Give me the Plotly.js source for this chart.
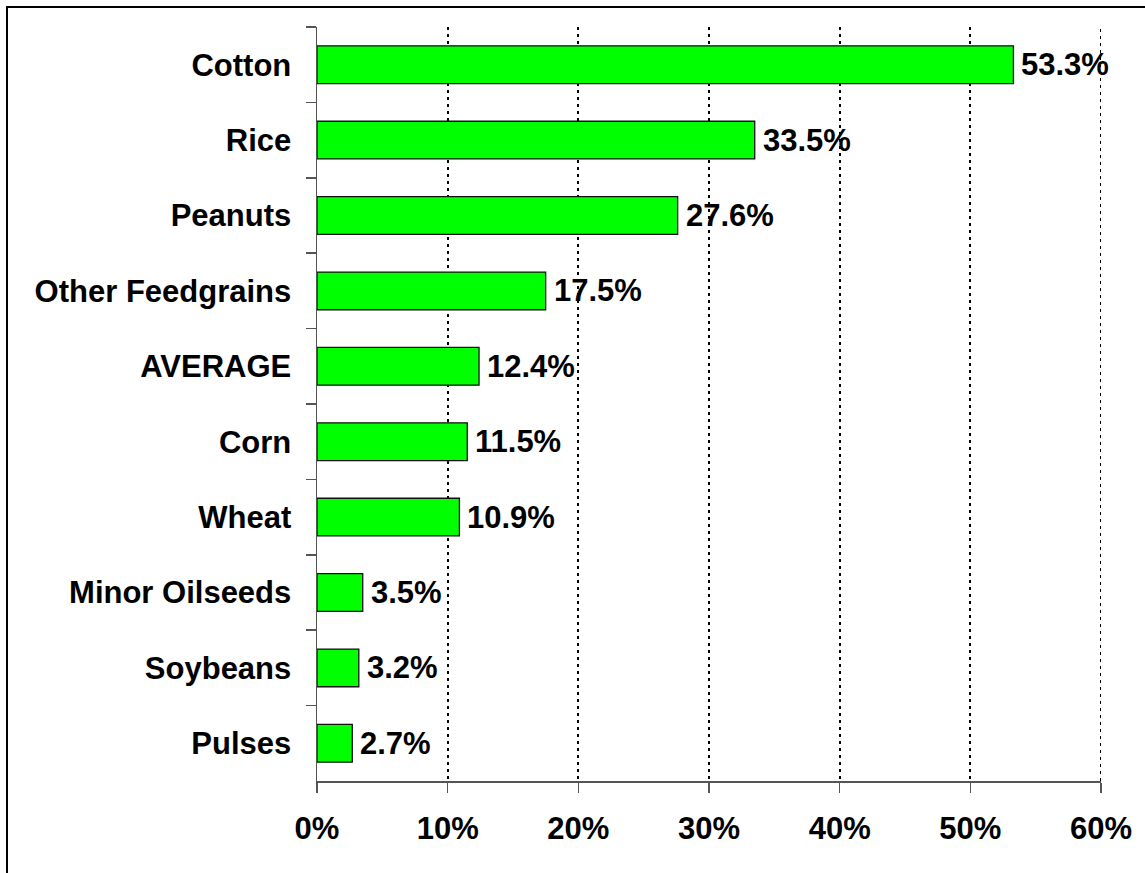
<!DOCTYPE html>
<html>
<head>
<meta charset="utf-8">
<script src="https://cdn.plot.ly/plotly-3.0.1.min.js"></script>
<style>
  html, body { margin: 0; padding: 0; background: #fff; }
  #wrap { position: relative; width: 1145px; height: 873px; }
  #chart { width: 1145px; height: 873px; }
  /* frame drawn along the top and left of the figure */
  #frame {
    position: absolute; left: 6px; top: 6px; right: 0; bottom: 0;
    border-top: 2px solid #000; border-left: 2px solid #000;
    pointer-events: none;
  }
</style>
</head>
<body>
<div id="wrap">
  <div id="chart"></div>
  <div id="frame"></div>
</div>
<script>
// Crops, listed top to bottom
const crops = ["Cotton", "Rice", "Peanuts", "Other Feedgrains", "AVERAGE",
               "Corn", "Wheat", "Minor Oilseeds", "Soybeans", "Pulses"];
// Share, percent
const shares = [53.3, 33.5, 27.6, 17.5, 12.4, 11.5, 10.9, 3.5, 3.2, 2.7];
// Horizontal axis ticks
const tickValues = [0, 10, 20, 30, 40, 50, 60];
const tickLabels = ["0%", "10%", "20%", "30%", "40%", "50%", "60%"];

const FONT = "Liberation Sans, Arial, Helvetica, sans-serif";
const boldFont = { family: FONT, size: 31, color: "#000", weight: "bold" };

const bars = {
  type: "bar",
  orientation: "h",
  x: shares,
  y: crops,
  marker: { color: "#00ff00", line: { color: "#111", width: 1.3 } },
  hoverinfo: "x+y"
};

// value labels placed just right of each bar end
const valueLabels = crops.map((c, i) => ({
  x: shares[i], y: c, xref: "x", yref: "y",
  text: shares[i].toFixed(1) + "%",
  showarrow: false, xanchor: "left", yanchor: "middle",
  xshift: 6, font: boldFont
}));

// dotted gridline at the right end of the value axis
const edgeGrid = [{
  type: "line", xref: "x", yref: "paper",
  x0: tickValues[tickValues.length - 1], x1: tickValues[tickValues.length - 1],
  y0: 0, y1: 1,
  line: { color: "#000", width: 2, dash: "3px,4px" },
  layer: "below"
}];

const layout = {
  width: 1145, height: 873,
  margin: { l: 317, r: 44, t: 27, b: 92 },
  paper_bgcolor: "#fff", plot_bgcolor: "#fff",
  showlegend: false,
  bargap: 0.5,
  xaxis: {
    range: [0, 60],
    tickvals: tickValues, ticktext: tickLabels,
    showgrid: true, gridcolor: "#000", gridwidth: 2, griddash: "3px,4px",
    zeroline: false,
    showline: true, linecolor: "#555", linewidth: 1.5,
    ticks: "outside", ticklen: 10, tickwidth: 1.5, tickcolor: "#555",
    ticklabelstandoff: 9,
    tickfont: boldFont, fixedrange: true
  },
  yaxis: {
    type: "category",
    categoryorder: "array", categoryarray: crops,
    autorange: "reversed",
    showgrid: false, zeroline: false,
    showline: true, linecolor: "#555", linewidth: 1.5,
    ticks: "outside", ticklen: 10, tickwidth: 1.5, tickcolor: "#555",
    tickson: "boundaries",
    ticklabelstandoff: 18,
    tickfont: boldFont, fixedrange: true
  },
  shapes: edgeGrid,
  annotations: valueLabels
};

Plotly.newPlot("chart", [bars], layout, { displayModeBar: false, staticPlot: true });
</script>
</body>
</html>
